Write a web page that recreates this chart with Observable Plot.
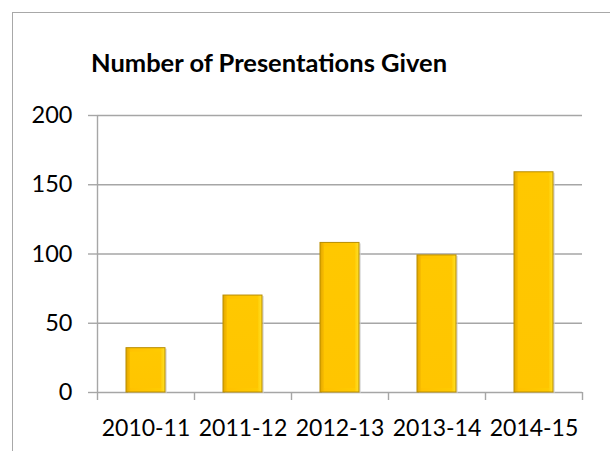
<!DOCTYPE html>
<html>
<head>
<meta charset="utf-8">
<script src="https://cdn.jsdelivr.net/npm/d3@7"></script>
<script src="https://cdn.jsdelivr.net/npm/@observablehq/plot@0.6"></script>
<style>
  html, body { margin: 0; padding: 0; background: #fff; overflow: hidden; }
  #wrap { position: relative; width: 610px; height: 451px; overflow: hidden; }
  #box { position: absolute; left: 12px; top: 12px; width: 700px; height: 600px; border: 1.5px solid #a8a8a8; box-sizing: border-box; }
  #chart { position: absolute; left: 0; top: 0; }
</style>
</head>
<body>
<div id="wrap"><div id="box"></div><div id="chart"></div></div>
<script>
const title = "Number of Presentations Given";
const seasons = ["2010-11", "2011-12", "2012-13", "2013-14", "2014-15"];
const presentations = [32, 70, 108, 99, 159];
const yTicks = [0, 50, 100, 150, 200];

const data = seasons.map((s, i) => ({season: s, value: presentations[i]}));

const W = 610, H = 451;
const mL = 97, mR = 28, mT = 115, mB = 59;
const half = (W - mL - mR) / seasons.length / 2;
const axisColor = "#a6a6a6";
const font = "Lato, 'Open Sans', sans-serif";

const defs = () => {
  const svg = d3.create("svg:defs");
  const g = svg.append("linearGradient").attr("id", "barGrad").attr("x1", 0).attr("x2", 1).attr("y1", 0).attr("y2", 0);
  g.append("stop").attr("offset", "0%").attr("stop-color", "#e0a600");
  g.append("stop").attr("offset", "12%").attr("stop-color", "#ffc200");
  g.append("stop").attr("offset", "88%").attr("stop-color", "#ffca00");
  g.append("stop").attr("offset", "100%").attr("stop-color", "#ffe02a");
  const g2 = svg.append("linearGradient").attr("id", "innerGrad").attr("x1", 0).attr("x2", 0).attr("y1", 0).attr("y2", 1);
  g2.append("stop").attr("offset", "0%").attr("stop-color", "#ffc800");
  g2.append("stop").attr("offset", "100%").attr("stop-color", "#ffc500");
  return svg.node();
};

const chart = Plot.plot({
  width: W,
  height: H,
  marginLeft: mL,
  marginRight: mR,
  marginTop: mT,
  marginBottom: mB,
  style: {fontFamily: font, color: "#000", background: "transparent", overflow: "visible"},
  x: {domain: seasons, paddingInner: 0.6, paddingOuter: 0.3, label: null},
  y: {domain: [0, 200], label: null},
  marks: [
    defs,
    Plot.gridY(yTicks, {stroke: axisColor, strokeOpacity: 1, strokeWidth: 1.4}),
    Plot.axisY(yTicks, {tickSize: 9, tickPadding: 16, stroke: axisColor, strokeWidth: 1.4, fontSize: 23.5, fill: "#000", tickFormat: d => String(d)}),
    Plot.ruleX([seasons[0]], {x: d => d, dx: -half, stroke: axisColor, strokeWidth: 1.4, insetBottom: -8}),
    Plot.ruleX(seasons.slice(1), {x: d => d, y1: 0, dx: -half, stroke: axisColor, strokeWidth: 1.4, insetBottom: -8}),
    Plot.ruleX([seasons[seasons.length - 1]], {x: d => d, y1: 0, dx: half, stroke: axisColor, strokeWidth: 1.4, insetBottom: -8}),
    Plot.barY(data, {x: "season", y: "value", fill: "#d0d0d0", dx: 2, dy: 1, fillOpacity: 0.6}),
    Plot.barY(data, {x: "season", y: "value", fill: "url(#barGrad)", stroke: "#b88c00", strokeWidth: 1}),
    Plot.barY(data, {x: "season", y: "value", fill: "url(#innerGrad)", inset: 4}),
    Plot.axisX({tickSize: 0, tickPadding: 27, fontSize: 23, fill: "#000"}),
    Plot.text([title], {frameAnchor: "top-left", dx: 268.5 - mL, dy: 71 - mT, textAnchor: "middle", lineAnchor: "bottom", fontSize: 25.5, fontWeight: "bold", fill: "#000"})
  ]
});
document.getElementById("chart").appendChild(chart);
</script>
</body>
</html>
